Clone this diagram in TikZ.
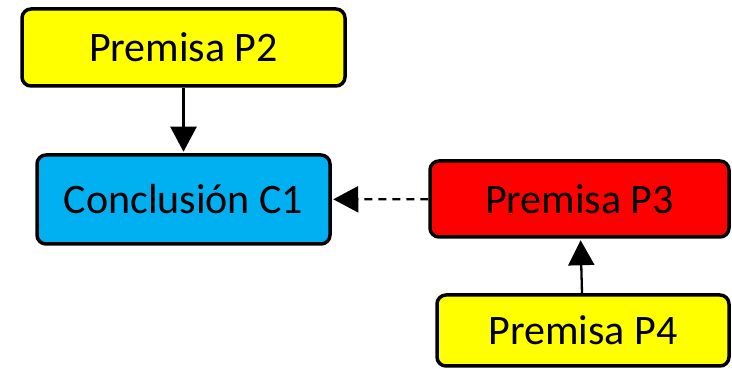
\documentclass[tikz,border=0pt]{standalone}
\usepackage{fontspec}
\setmainfont{Carlito}
\usetikzlibrary{arrows.meta}
\definecolor{PremYellow}{RGB}{255,255,0}
\definecolor{ConclBlue}{RGB}{0,176,240}
\definecolor{PremRed}{RGB}{255,0,0}

\begin{document}
\begin{tikzpicture}[x=1pt,y=1pt,
  caja/.style n args={3}{draw,line width=3.5pt,fill=#1,rounded corners=9pt,
    minimum width=#2pt,minimum height=#3pt,inner sep=0pt,
    font=\fontsize{42}{50}\selectfont},
  flecha/.style={line width=2.3pt,shorten >=1.5pt,-{Triangle[length=25pt,width=26pt]}}]
\useasboundingbox (0,0) rectangle (732,369);
% premisas y conclusion
\node[caja={PremYellow}{323}{77}] (p2) at (183.5,321.5) {Premisa P2};
\node[caja={ConclBlue}{293}{89}] (c1) at (183.5,169.5) {Conclusión C1};
\node[caja={PremRed}{299}{76}] (p3) at (579.5,170) {Premisa P3};
\node[caja={PremYellow}{292}{71}] (p4) at (583,38.5) {Premisa P4};
% flechas
\draw[flecha] (p2) -- (c1);
\draw[flecha,dash pattern=on 8pt off 6pt] (p3) -- (c1);
\draw[flecha] (p4) -- (p3);
\end{tikzpicture}
\end{document}
